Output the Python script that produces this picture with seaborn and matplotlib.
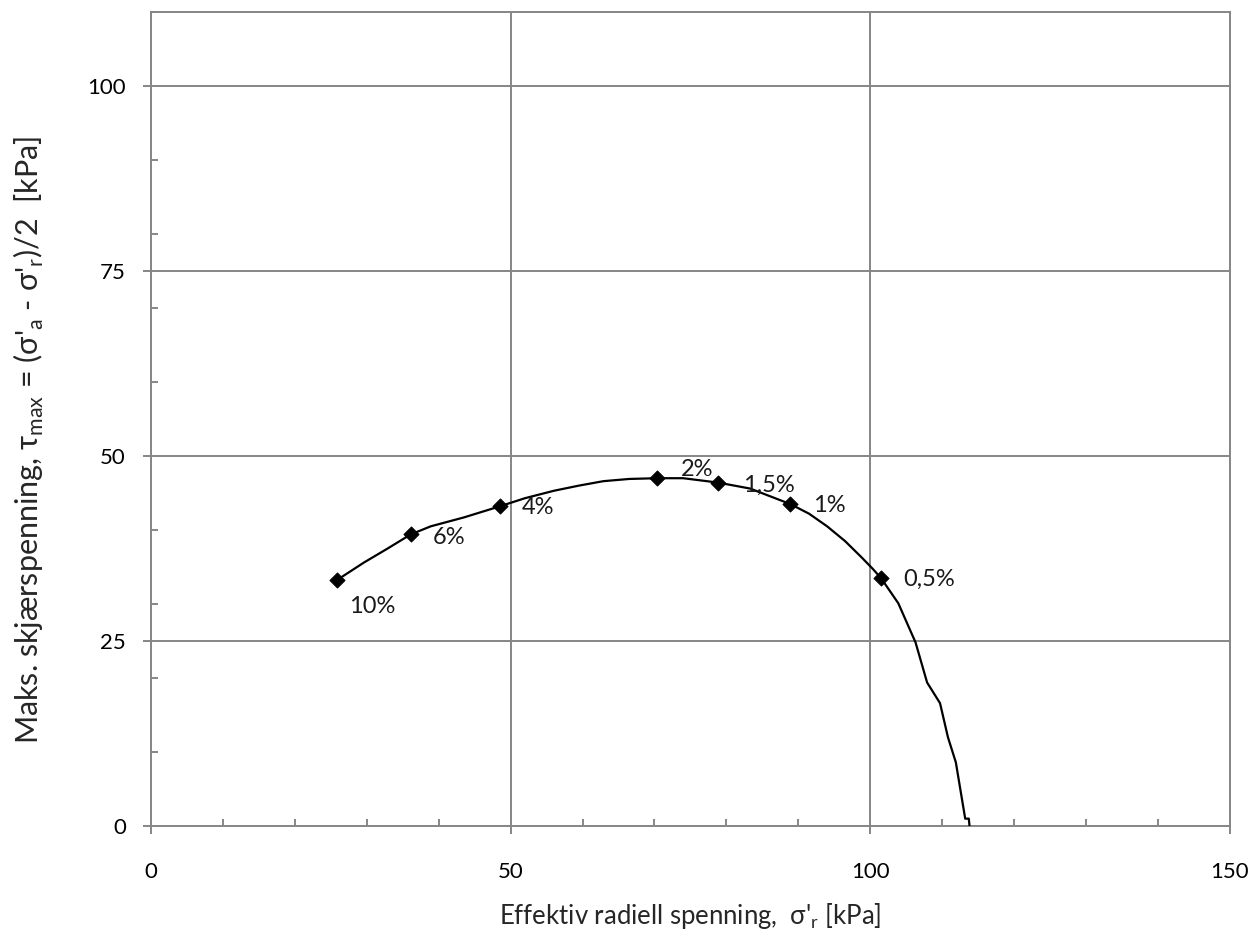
import matplotlib
matplotlib.use('Agg')
import matplotlib.pyplot as plt
import seaborn as sns
import pandas as pd
from matplotlib.ticker import MultipleLocator

# stress path (effective radial stress vs max shear stress)
curve_x = [25.8, 29.6, 32.9, 36.1, 38.9, 43.5, 48.5, 52.0, 56.0, 59.5, 62.9, 66.5,
           70.4, 74.0, 78.9, 83.3, 88.9, 91.5, 94.0, 96.5, 98.8, 100.3, 101.5,
           103.9, 106.3, 107.9, 109.7, 110.8, 111.9, 113.2, 113.7, 113.8]
curve_y = [33.2, 35.6, 37.5, 39.4, 40.5, 41.7, 43.2, 44.3, 45.3, 46.0, 46.6, 46.9,
           47.0, 47.0, 46.4, 45.6, 43.5, 42.2, 40.5, 38.5, 36.3, 34.8, 33.5,
           30.1, 24.8, 19.4, 16.6, 12.0, 8.6, 1.0, 1.0, 0.0]

# strain markers
mark_x = [25.8, 36.1, 48.5, 70.4, 78.9, 88.9, 101.5]
mark_y = [33.2, 39.4, 43.2, 47.0, 46.4, 43.5, 33.5]
mark_labels = ['10%', '6%', '4%', '2%', '1,5%', '1%', '0,5%']
# label offsets in points (dx, dy)
label_dx = [9, 16, 16, 17, 18, 16, 16]
label_dy = [-19, -2, -1, 6, -2, -1, -1]

curve = pd.DataFrame({'x': curve_x, 'y': curve_y})
marks = pd.DataFrame({'x': mark_x, 'y': mark_y})

sns.set_style('white')
plt.rcParams['font.family'] = ['Lato', 'DejaVu Sans']
plt.rcParams['mathtext.fontset'] = 'custom'
plt.rcParams['mathtext.rm'] = 'Lato'

grid_col = '#868686'

fig = plt.figure(figsize=(12.55, 9.42), dpi=100)
ax = fig.add_axes([0.1203, 0.1231, 0.8597, 0.8642])

sns.lineplot(data=curve, x='x', y='y', sort=False, estimator=None,
             color='black', linewidth=1.6, ax=ax, zorder=3)
sns.scatterplot(data=marks, x='x', y='y', marker='D', s=60, color='black',
                edgecolor='black', ax=ax, zorder=4)

for x, y, lab, dx, dy in zip(mark_x, mark_y, mark_labels, label_dx, label_dy):
    ax.annotate(lab, (x, y), xytext=(dx, dy), textcoords='offset points',
                ha='left', va='center', fontsize=17, color='#1a1a1a')

ax.set_xlim(0, 150)
ax.set_ylim(0, 110)
ax.xaxis.set_major_locator(MultipleLocator(50))
ax.xaxis.set_minor_locator(MultipleLocator(10))
ax.yaxis.set_minor_locator(MultipleLocator(10))
ax.set_yticks([0, 25, 50, 75, 100])

ax.grid(True, which='major', color=grid_col, linewidth=1.4)
ax.set_axisbelow(True)
for sp in ax.spines.values():
    sp.set_color(grid_col)
    sp.set_linewidth(1.4)
    sp.set_visible(True)

ax.tick_params(which='major', direction='out', length=6, width=1.4, color=grid_col,
               labelsize=16, labelcolor='black')
ax.tick_params(axis='x', which='major', pad=20)
ax.tick_params(axis='y', which='major', pad=12)
ax.tick_params(which='minor', direction='in', length=5, width=1.4, color=grid_col)
ax.tick_params(bottom=True, left=True, which='both')

ax.set_xlabel(r"Effektiv radiell spenning,  σ'$_\mathregular{r}$ [kPa]", fontsize=18.5)
ax.set_ylabel(r"Maks. skjærspenning, τ$_\mathregular{max}$ = (σ'$_\mathregular{a}$ - σ'$_\mathregular{r}$)/2  [kPa]",
              fontsize=22)
ax.xaxis.set_label_coords(0.5, -0.092)
ax.yaxis.set_label_coords(-0.097, 0.474)

fig.savefig('out.png', dpi=100)
